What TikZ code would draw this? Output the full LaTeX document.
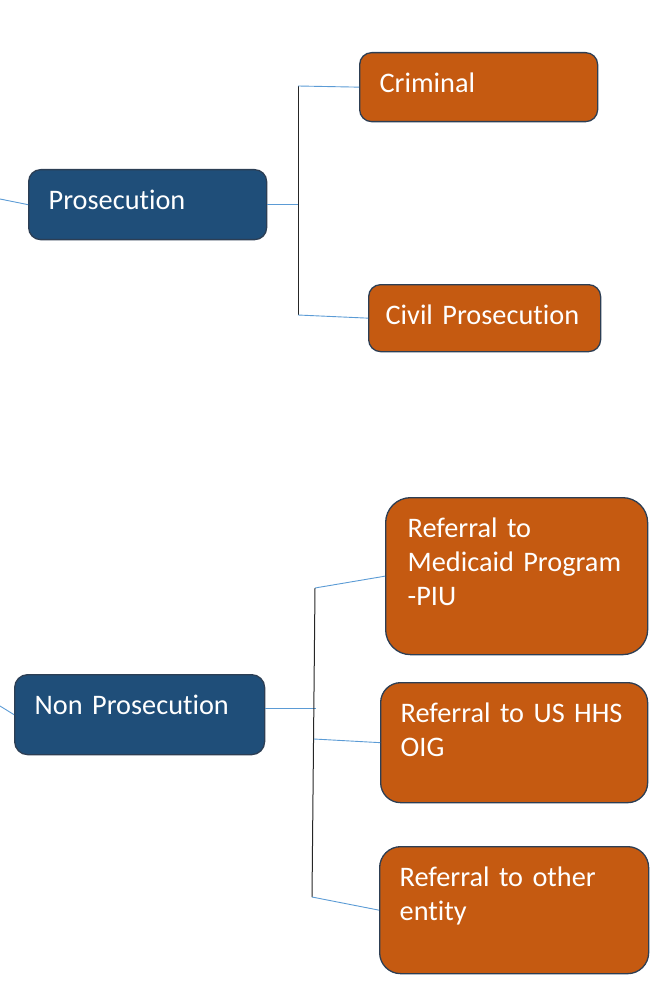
\documentclass[tikz,border=0pt]{standalone}
\usepackage{fontspec}
\setmainfont{Carlito}[Ligatures=NoCommon, WordSpace=0.8]
\usepackage{tikz}
\usetikzlibrary{arrows.meta,positioning,calc}
\definecolor{outcomeblue}{RGB}{31,78,121}
\definecolor{referralorange}{RGB}{197,90,17}
\definecolor{edgenavy}{RGB}{44,62,84}
\definecolor{linkblue}{RGB}{91,155,213}

\begin{document}
\begin{tikzpicture}[
    x=1pt, y=-1pt,
    box/.style={draw=edgenavy, line width=1.3pt, text=white, anchor=north west, align=left,
        inner xsep=20pt, inner ysep=10pt, text height=30pt,
        font=\fontsize{28.3}{34}\selectfont},
    outcome/.style={box, fill=outcomeblue, rounded corners=12pt},
    referral/.style={box, fill=referralorange, rounded corners=12pt},
    link/.style={draw=linkblue, line width=0.9pt},
    fork/.style={draw=black!85, line width=1pt}
]
\useasboundingbox (0,0) rectangle (659,981);

% Prosecution branch
\node[outcome, text width=198pt, text depth=20pt] (pros) at (28,169) {Prosecution};
\node[referral, text width=198pt, text depth=19pt] (crim) at (359,52) {Criminal};
\node[referral, inner xsep=17pt, text width=198pt, text depth=17pt] (civil) at (368,284) {Civil Prosecution};

\coordinate (prosin) at (0,199);
\coordinate (prostop) at (298,86);
\coordinate (prosbot) at (298,315);

\draw[link] (prosin) -- (pros.west);
\draw[link] (pros.east) -- (pros.east -| prostop);
\draw[fork] (prostop) -- (prosbot);
\draw[link] (prostop) -- (crim.west);
\draw[link] (prosbot) -- (civil.west);

% Non prosecution branch
\node[outcome, rounded corners=13pt, text width=210pt, text depth=30pt] (nonpros) at (14,674) {Non Prosecution};
\node[referral, rounded corners=25pt, inner xsep=22pt, text width=218pt, text depth=107pt] (medicaid) at (385,497)
    {Referral to\\Medicaid Program\\-PIU};
\node[referral, rounded corners=20pt, text width=227pt, text depth=70pt] (hhs) at (380,682)
    {Referral to US HHS\\OIG};
\node[referral, rounded corners=21pt, text width=229pt, text depth=77pt] (other) at (379,846)
    {Referral to other\\entity};

\coordinate (npin) at (0,706);
\coordinate (npfork) at (316,708);
\coordinate (nptop) at (315,588);
\coordinate (npmid) at (314,739);
\coordinate (npbot) at (312,897);

\draw[link] (npin) -- (nonpros.west);
\draw[link] (nonpros.east |- npfork) -- (npfork);
\draw[fork] (nptop) -- (npbot);
\draw[link] (nptop) -- (medicaid.west);
\draw[link] (npmid) -- (hhs.west);
\draw[link] (npbot) -- (other.west);

\end{tikzpicture}
\end{document}
